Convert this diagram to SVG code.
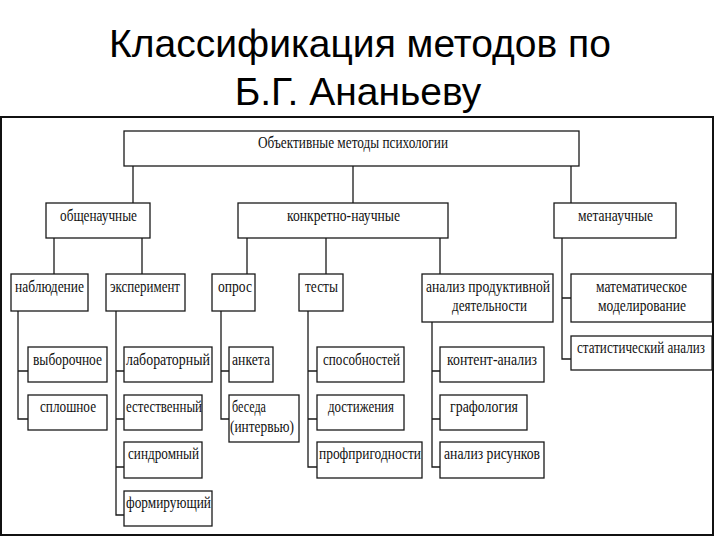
<svg xmlns="http://www.w3.org/2000/svg" width="720" height="540" viewBox="0 0 720 540">
<style>
.title{font-family:"Liberation Sans",Arial,sans-serif;font-size:39px;fill:#000;text-anchor:middle}
.box{fill:#fff;stroke:#1a1a1a;stroke-width:1.3}
.t{font-family:"Liberation Serif","Times New Roman",serif;font-size:17px;fill:#111}
.c{fill:none;stroke:#1a1a1a;stroke-width:1.3}
</style>
<rect width="720" height="540" fill="#fff"/>
<text class="title" x="360" y="57">Классификация методов по</text>
<text class="title" x="358" y="105">Б.Г. Ананьеву</text>
<rect x="1" y="117" width="712" height="418" fill="none" stroke="#111" stroke-width="2"/>

<g id="connectors">
<path class="c" d="M133 166V203M353 166V203M571 166V203"/>
<path class="c" d="M54 238V274M142 238V274"/>
<path class="c" d="M247 238V274M326 238V274M440 238V274"/>
<path class="c" d="M562 238V359H571M562 298H571"/>
<path class="c" d="M18 311V419H28M18 371H28"/>
<path class="c" d="M116 311V515H124M116 371H124M116 419H124M116 467H124"/>
<path class="c" d="M221 311V419H229M221 371H229"/>
<path class="c" d="M308 311V467H317M308 371H317M308 419H317"/>
<path class="c" d="M432 322V467H440M432 371H440M432 419H440"/>
</g>

<g id="root"><rect class="box" x="124" y="131" width="455" height="35"/><text class="t" x="258" y="148" textLength="190" lengthAdjust="spacingAndGlyphs">Объективные методы психологии</text></g>

<g id="obshchenauchnye"><rect class="box" x="46" y="203" width="104" height="35"/><text class="t" x="60" y="221" textLength="77" lengthAdjust="spacingAndGlyphs">общенаучные</text></g>
<g id="konkretno"><rect class="box" x="238" y="203" width="210" height="35"/><text class="t" x="287" y="221" textLength="113" lengthAdjust="spacingAndGlyphs">конкретно-научные</text></g>
<g id="metanauchnye"><rect class="box" x="554" y="203" width="122" height="35"/><text class="t" x="578" y="221" textLength="75" lengthAdjust="spacingAndGlyphs">метанаучные</text></g>

<g id="nablyudenie"><rect class="box" x="11" y="274" width="77" height="37"/><text class="t" x="15" y="292" textLength="69" lengthAdjust="spacingAndGlyphs">наблюдение</text></g>
<g id="eksperiment"><rect class="box" x="106" y="274" width="79" height="37"/><text class="t" x="110" y="292" textLength="70" lengthAdjust="spacingAndGlyphs">эксперимент</text></g>
<g id="opros"><rect class="box" x="212" y="274" width="43" height="37"/><text class="t" x="218" y="292" textLength="34" lengthAdjust="spacingAndGlyphs">опрос</text></g>
<g id="testy"><rect class="box" x="299" y="274" width="44" height="37"/><text class="t" x="305" y="292" textLength="33" lengthAdjust="spacingAndGlyphs">тесты</text></g>
<g id="analiz"><rect class="box" x="422" y="274" width="131" height="48"/><text class="t" x="426" y="292" textLength="124" lengthAdjust="spacingAndGlyphs">анализ продуктивной</text><text class="t" x="452" y="311" textLength="75" lengthAdjust="spacingAndGlyphs">деятельности</text></g>
<g id="matmodel"><rect class="box" x="571" y="274" width="141" height="48"/><text class="t" x="596" y="292" textLength="91" lengthAdjust="spacingAndGlyphs">математическое</text><text class="t" x="598" y="311" textLength="88" lengthAdjust="spacingAndGlyphs">моделирование</text></g>
<g id="statanaliz"><rect class="box" x="571" y="336" width="141" height="34"/><text class="t" x="577" y="353" textLength="128" lengthAdjust="spacingAndGlyphs">статистический анализ</text></g>

<g id="vyborochnoe"><rect class="box" x="28" y="347" width="79" height="35"/><text class="t" x="33" y="365" textLength="69" lengthAdjust="spacingAndGlyphs">выборочное</text></g>
<g id="sploshnoe"><rect class="box" x="28" y="395" width="79" height="35"/><text class="t" x="40" y="412" textLength="56" lengthAdjust="spacingAndGlyphs">сплошное</text></g>

<g id="laboratornyi"><rect class="box" x="124" y="347" width="88" height="35"/><text class="t" x="126" y="365" textLength="84" lengthAdjust="spacingAndGlyphs">лабораторный</text></g>
<g id="estestvennyi"><rect class="box" x="124" y="395" width="78" height="35"/><text class="t" x="126" y="412" textLength="76" lengthAdjust="spacingAndGlyphs">естественный</text></g>
<g id="sindromnyi"><rect class="box" x="124" y="442" width="78" height="36"/><text class="t" x="128" y="459" textLength="71" lengthAdjust="spacingAndGlyphs">синдромный</text></g>
<g id="formiruyushchii"><rect class="box" x="124" y="491" width="88" height="35"/><text class="t" x="126" y="508" textLength="85" lengthAdjust="spacingAndGlyphs">формирующий</text></g>

<g id="anketa"><rect class="box" x="229" y="347" width="44" height="35"/><text class="t" x="232" y="365" textLength="38" lengthAdjust="spacingAndGlyphs">анкета</text></g>
<g id="beseda"><rect class="box" x="229" y="395" width="70" height="47"/><text class="t" x="232" y="412" textLength="34" lengthAdjust="spacingAndGlyphs">беседа</text><text class="t" x="230" y="432" textLength="64" lengthAdjust="spacingAndGlyphs">(интервью)</text></g>

<g id="sposobnostei"><rect class="box" x="317" y="347" width="87" height="35"/><text class="t" x="323" y="365" textLength="77" lengthAdjust="spacingAndGlyphs">способностей</text></g>
<g id="dostizheniya"><rect class="box" x="317" y="395" width="87" height="35"/><text class="t" x="328" y="412" textLength="66" lengthAdjust="spacingAndGlyphs">достижения</text></g>
<g id="profprigodnosti"><rect class="box" x="317" y="442" width="105" height="36"/><text class="t" x="319" y="459" textLength="102" lengthAdjust="spacingAndGlyphs">профпригодности</text></g>

<g id="kontent"><rect class="box" x="440" y="347" width="104" height="35"/><text class="t" x="447" y="365" textLength="90" lengthAdjust="spacingAndGlyphs">контент-анализ</text></g>
<g id="grafologiya"><rect class="box" x="440" y="395" width="87" height="35"/><text class="t" x="450" y="412" textLength="68" lengthAdjust="spacingAndGlyphs">графология</text></g>
<g id="risunki"><rect class="box" x="440" y="442" width="104" height="36"/><text class="t" x="444" y="459" textLength="96" lengthAdjust="spacingAndGlyphs">анализ рисунков</text></g>
</svg>
